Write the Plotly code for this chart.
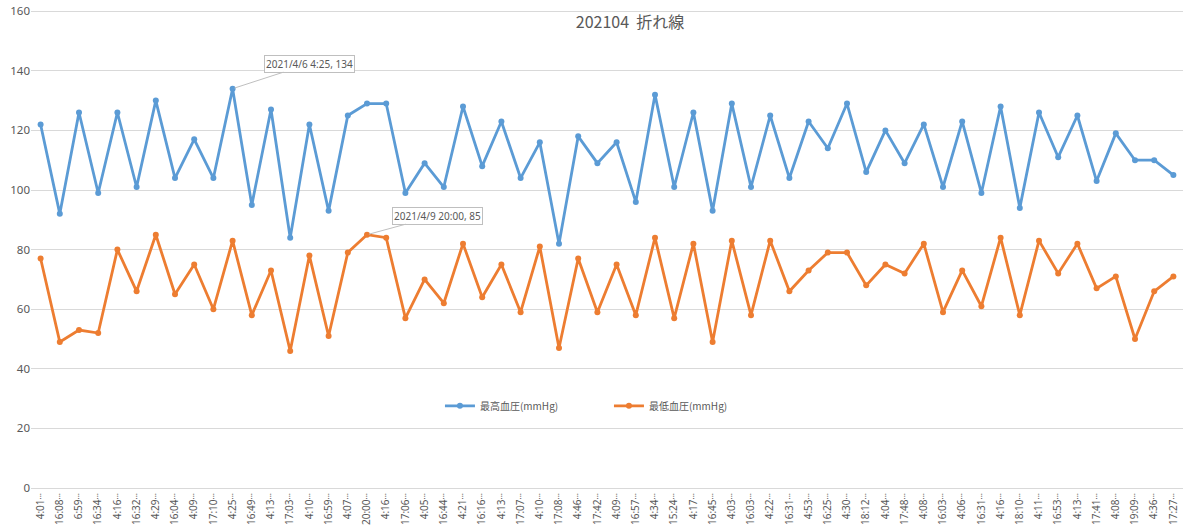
import plotly.graph_objects as go

# ==========================================
# DATA
# ==========================================
TIMES = [
    "4:01", "16:08", "6:59", "16:34", "4:16", "16:32", "4:29", "16:04", "4:09", "17:10",
    "4:25", "16:49", "4:13", "17:03", "4:10", "16:59", "4:07", "20:00", "4:16", "17:06",
    "4:05", "16:44", "4:21", "16:16", "4:13", "17:07", "4:10", "17:08", "4:46", "17:42",
    "4:09", "16:57", "4:34", "15:24", "4:17", "16:45", "4:03", "16:03", "4:22", "16:31",
    "4:53", "16:25", "4:30", "18:12", "4:04", "17:48", "4:08", "16:03", "4:06", "16:31",
    "4:16", "18:10", "4:11", "16:53", "4:13", "17:41", "4:08", "19:09", "4:36", "17:27",
]

SYSTOLIC = [
    122, 92, 126, 99, 126, 101, 130, 104, 117, 104,
    134, 95, 127, 84, 122, 93, 125, 129, 129, 99,
    109, 101, 128, 108, 123, 104, 116, 82, 118, 109,
    116, 96, 132, 101, 126, 93, 129, 101, 125, 104,
    123, 114, 129, 106, 120, 109, 122, 101, 123, 99,
    128, 94, 126, 111, 125, 103, 119, 110, 110, 105,
]

DIASTOLIC = [
    77, 49, 53, 52, 80, 66, 85, 65, 75, 60,
    83, 58, 73, 46, 78, 51, 79, 85, 84, 57,
    70, 62, 82, 64, 75, 59, 81, 47, 77, 59,
    75, 58, 84, 57, 82, 49, 83, 58, 83, 66,
    73, 79, 79, 68, 75, 72, 82, 59, 73, 61,
    84, 58, 83, 72, 82, 67, 71, 50, 66, 71,
]

Y_TICKS = [0, 20, 40, 60, 80, 100, 120, 140, 160]

# callouts: (index, series, label)
CALLOUTS = [
    (10, SYSTOLIC, "2021/4/6 4:25"),
    (17, DIASTOLIC, "2021/4/9 20:00"),
]

# ==========================================
# STYLE
# ==========================================
FONT = "Noto Sans CJK JP, Noto Sans, sans-serif"
LATIN = "Noto Sans, sans-serif"
TEXT_GREY = "#595959"
GRID = "#D9D9D9"
BLUE = "#5B9BD5"
ORANGE = "#ED7D31"

W, H = 1200, 530

x_idx = list(range(len(TIMES)))

fig = go.Figure()

fig.add_trace(go.Scatter(
    x=x_idx, y=SYSTOLIC, mode="lines+markers", name="最高血圧(mmHg)",
    line=dict(color=BLUE, width=2.8),
    marker=dict(color=BLUE, size=6),
))
fig.add_trace(go.Scatter(
    x=x_idx, y=DIASTOLIC, mode="lines+markers", name="最低血圧(mmHg)",
    line=dict(color=ORANGE, width=2.8),
    marker=dict(color=ORANGE, size=6),
))

# data callouts (Excel style boxes with leader lines)
offsets = [(77, -25), (70, -19)]
for (i, series, lbl), (ax, ay) in zip(CALLOUTS, offsets):
    fig.add_annotation(
        x=i, y=series[i], text=f"{lbl}, {series[i]}",
        showarrow=True, arrowhead=0, arrowwidth=1, arrowcolor="#BFBFBF",
        ax=ax, ay=ay, standoff=2,
        bgcolor="white", bordercolor="#BFBFBF", borderwidth=1, borderpad=1,
        font=dict(family=LATIN, size=10, color=TEXT_GREY),
    )

fig.update_xaxes(
    range=[-0.5, len(TIMES) - 0.5],
    tickmode="array", tickvals=x_idx,
    ticktext=[t + "<span style='font-size:8px'>···</span>" for t in TIMES],
    tickangle=-90, tickfont=dict(family=LATIN, size=10, color=TEXT_GREY),
    showgrid=False, zeroline=False, automargin=False,
    showline=True, linecolor=GRID, linewidth=1,
    ticks="", fixedrange=True,
)
# range runs a hair past 160 so the top gridline is still drawn
fig.update_yaxes(
    range=[0, 160.4], tickvals=Y_TICKS,
    tickfont=dict(family=LATIN, size=11.5, color=TEXT_GREY),
    showgrid=True, gridcolor=GRID, gridwidth=1, automargin=False,
    zeroline=False, showline=False, ticks="", fixedrange=True,
)

fig.update_layout(
    width=W, height=H,
    margin=dict(l=31, r=17, t=10, b=42),
    paper_bgcolor="white", plot_bgcolor="white",
    font=dict(family=FONT, color=TEXT_GREY),
    title=dict(
        text="202104  折れ線", x=0.525, xanchor="center",
        y=1 - 22 / H, yanchor="middle", yref="container",
        font=dict(family=FONT, size=16, color=TEXT_GREY),
    ),
    legend=dict(
        orientation="h", x=0.355, xanchor="left", y=0.172, yanchor="middle",
        entrywidth=124, entrywidthmode="pixels", itemwidth=30,
        bgcolor="rgba(0,0,0,0)",
        font=dict(family=FONT, size=10, color=TEXT_GREY),
    ),
    showlegend=True,
)

# drop the default page margin so the figure fills the window exactly
fig.write_html(
    "out.html",
    config={"displayModeBar": False},
    post_script="document.body.style.margin='0';",
)
